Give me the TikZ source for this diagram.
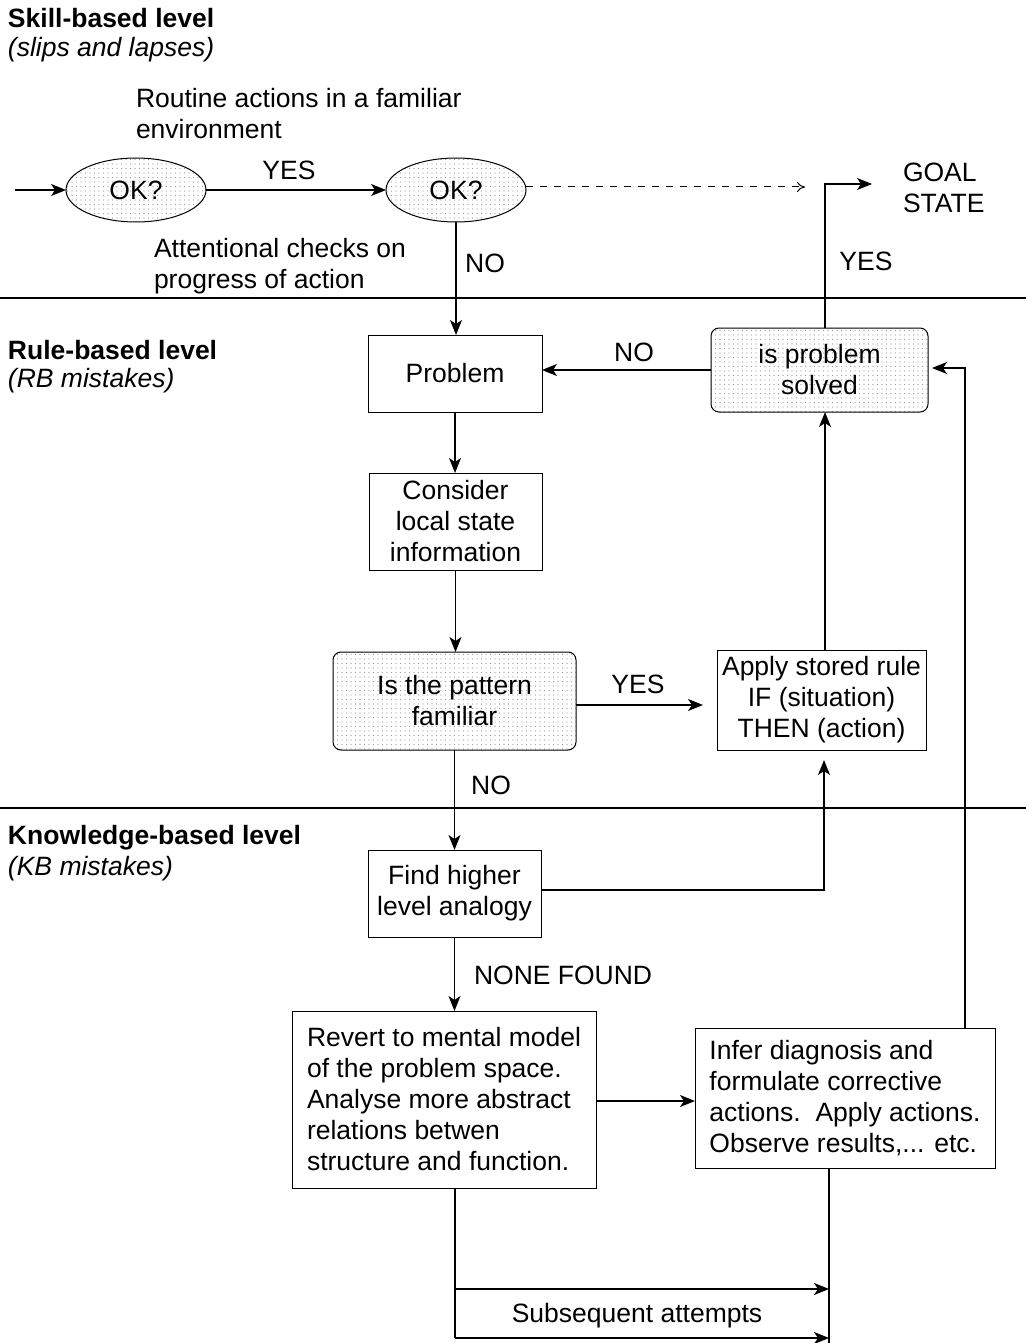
\documentclass[tikz,border=0pt]{standalone}
\usepackage{fontspec}
\setmainfont{Liberation Sans}
\usetikzlibrary{arrows.meta,patterns.meta,shapes.geometric}
\begin{document}
\begin{tikzpicture}[x=1pt,y=-1pt,
  font=\fontsize{26.5}{31}\selectfont,
  every node/.style={inner sep=0pt, outer sep=0pt},
  box/.style={draw, line width=1pt, align=center},
  shaded/.style={box, rounded corners=8pt, pattern={Dots[distance=4.5pt,radius=0.55pt]}, pattern color=black!40},
  oval/.style={draw, line width=1pt, ellipse, minimum width=140pt, minimum height=64pt, pattern={Dots[distance=4.5pt,radius=0.55pt]}, pattern color=black!40},
  arr/.style={line width=1.3pt, -{Stealth[length=15pt,width=12pt,inset=4pt]}},
  ln/.style={line width=1.3pt},
  lbl/.style={anchor=west, align=left},
  head/.style={anchor=west, font=\fontsize{26.5}{31}\selectfont\bfseries},
  sub/.style={anchor=west, font=\fontsize{26.5}{31}\selectfont\itshape}
]
\useasboundingbox (0,0) rectangle (1026,1343);

% level headings
\node[head] (h1) at (8,18) {Skill-based level};
\node[sub] (s1) at (8,50) {(slips and lapses)};
\node[head] (h2) at (8,350) {Rule-based level};
\node[sub] (s2) at (8,381) {(RB mistakes)};
\node[head] (h3) at (8,838) {Knowledge-based level};
\node[sub] (s3) at (8,869) {(KB mistakes)};

% separator lines
\coordinate (l1a) at (0,298); \coordinate (l1b) at (1026,298);
\coordinate (l2a) at (0,808); \coordinate (l2b) at (1026,808);
\draw[ln] (l1a) -- (l1b);
\draw[ln] (l2a) -- (l2b);

% skill-based
\node[lbl] (routine) at (136,113.5) {Routine actions in a familiar\\environment};
\node[lbl] (attn) at (154,266.5) {Attentional checks on\\progress of action};
\node[oval] (ok1) at (136,190) {OK?};
\node[oval] (ok2) at (456,190) {OK?};
\coordinate (start) at (15,190);
\coordinate (dashend) at (805,187);
\node[lbl, align=left] (goal) at (903,187.5) {GOAL\\STATE};

% rule-based
\node[box, minimum width=174pt, minimum height=77pt] (prob) at (455,373.5) {Problem};
\node[shaded, minimum width=217pt, minimum height=84pt] (solved) at (819.5,370) {is problem\\solved};
\node[box, minimum width=173pt, minimum height=97pt] (cons) at (455.5,521.5) {Consider\\local state\\information};
\node[shaded, minimum width=243pt, minimum height=98pt] (patt) at (454.5,701) {Is the pattern\\familiar};
\node[box, minimum width=209pt, minimum height=100pt] (apply) at (821.5,700) {Apply stored rule\\IF (situation)\\THEN (action)};

% knowledge-based
\node[box, minimum width=173pt, minimum height=87pt] (find) at (454.5,893.5) {Find higher\\level analogy};
\node[box, minimum width=304pt, minimum height=177pt, align=left] (revert) at (444,1099.5) {Revert to mental model\\of the problem space.\\Analyse more abstract\\relations betwen\\structure and function.};
\node[box, minimum width=300pt, minimum height=140pt, align=left] (infer) at (845,1098) {Infer diagnosis and\\formulate corrective\\actions.\ \ Apply actions.\\Observe results,... etc.};

% connector labels
\node (yes1) at (289,170) {YES};
\node (no1) at (485,263) {NO};
\node (yes2) at (866,261) {YES};
\node (no2) at (634,352) {NO};
\node (yes3) at (638,684) {YES};
\node (no3) at (491,785) {NO};
\node[anchor=west] (none) at (474,975) {NONE FOUND};
\node (subs) at (637,1316) {Subsequent attempts};

% connectors
\draw[arr] (start) -- (ok1.west);
\draw[arr] (ok1.east) -- (ok2.west);
\draw[line width=1pt, dash pattern=on 7pt off 7pt, -{To[length=8pt,width=10pt]}] (ok2.east |- dashend) -- (dashend);
\draw[arr] (ok2.south) -- (ok2.south |- prob.north);
\coordinate (gy) at (825,184);
\coordinate (gx) at (872,184);
\draw[arr] (solved.north -| gy) -- (gy) -- (gx);
\draw[arr] (solved.west) -- (prob.east |- solved.west);
\draw[arr] (prob.south) -- (prob.south |- cons.north);
\draw[arr] (cons.south) -- (cons.south |- patt.north);
\draw[arr, shorten >=14pt] (patt.east |- 0,705) -- (apply.west |- 0,705);
\draw[arr] (apply.north -| gy) -- (solved.south -| gy);
\draw[arr] (patt.south) -- (patt.south |- find.north);
\coordinate (fa) at (824,890);
\draw[arr, shorten >=10pt] (find.east |- fa) -- (fa) -- (fa |- apply.south);
\draw[arr] (find.south) -- (find.south |- revert.north);
\draw[arr] (revert.east |- 0,1101) -- (infer.west |- 0,1101);
\coordinate (fb) at (965,368);
\draw[arr, shorten >=4pt] (infer.north -| fb) -- (fb) -- (solved.east |- fb);
% subsequent attempts
\coordinate (bl) at (455,1338);
\coordinate (br) at (829,1343);
\coordinate (a1) at (455,1289);
\coordinate (a2) at (829,1289);
\coordinate (a3) at (829,1338);
\draw[ln] (revert.south -| bl) -- (bl);
\draw[ln] (infer.south -| br) -- (br);
\draw[arr] (a1) -- (a2);
\draw[arr] (bl) -- (a3);
\end{tikzpicture}
\end{document}
